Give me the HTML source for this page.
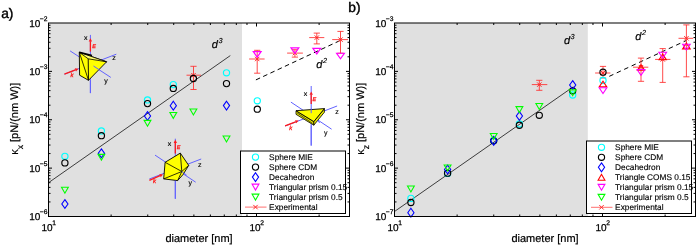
<!DOCTYPE html>
<html><head><meta charset="utf-8"><style>html,body{margin:0;padding:0;background:#fff;overflow:hidden}</style></head>
<body><svg width="697" height="245" viewBox="0 0 697 245" style="display:block;will-change:transform;text-rendering:geometricPrecision"><rect width="697" height="245" fill="#fff"/><rect x="48.5" y="23.0" width="193.5" height="193.5" fill="#e0e0e0"/><rect x="394.5" y="23.0" width="193.29999999999995" height="193.5" fill="#e0e0e0"/><line x1="48.50" y1="182.70" x2="230.30" y2="55.60" stroke="#2a2a2a" stroke-width="0.9" /><line x1="255.9" y1="79.9" x2="340.3" y2="40.45" stroke="#000" stroke-width="1" stroke-dasharray="4.6,3.4"/><circle cx="64.9" cy="156.3" r="3.1" fill="none" stroke="#00ffff" stroke-width="1.15"/><circle cx="64.9" cy="162.9" r="3.1" fill="none" stroke="#000000" stroke-width="1.15"/><polygon points="64.9,199.6 68.0,204.0 64.9,208.4 61.800000000000004,204.0" fill="none" stroke="#0000ff" stroke-width="1.1"/><polygon points="61.50000000000001,187.25 68.30000000000001,187.25 64.9,193.15" fill="none" stroke="#00ff00" stroke-width="1.1" stroke-linejoin="miter"/><circle cx="101.4" cy="130.9" r="3.1" fill="none" stroke="#00ffff" stroke-width="1.15"/><circle cx="101.4" cy="135.7" r="3.1" fill="none" stroke="#000000" stroke-width="1.15"/><polygon points="101.4,148.9 104.5,153.3 101.4,157.70000000000002 98.30000000000001,153.3" fill="none" stroke="#0000ff" stroke-width="1.1"/><polygon points="98.0,154.35000000000002 104.80000000000001,154.35000000000002 101.4,160.25000000000003" fill="none" stroke="#00ff00" stroke-width="1.1" stroke-linejoin="miter"/><circle cx="147.5" cy="99.9" r="3.1" fill="none" stroke="#00ffff" stroke-width="1.15"/><circle cx="147.5" cy="103.6" r="3.1" fill="none" stroke="#000000" stroke-width="1.15"/><polygon points="147.5,111.6 150.6,116.0 147.5,120.4 144.4,116.0" fill="none" stroke="#0000ff" stroke-width="1.1"/><polygon points="144.1,120.35 150.9,120.35 147.5,126.25" fill="none" stroke="#00ff00" stroke-width="1.1" stroke-linejoin="miter"/><circle cx="173.3" cy="84.6" r="3.1" fill="none" stroke="#00ffff" stroke-width="1.15"/><circle cx="173.3" cy="88.4" r="3.1" fill="none" stroke="#000000" stroke-width="1.15"/><polygon points="173.3,101.3 176.4,105.7 173.3,110.10000000000001 170.20000000000002,105.7" fill="none" stroke="#0000ff" stroke-width="1.1"/><polygon points="169.9,112.45 176.70000000000002,112.45 173.3,118.35000000000001" fill="none" stroke="#00ff00" stroke-width="1.1" stroke-linejoin="miter"/><circle cx="226.5" cy="72.8" r="3.1" fill="none" stroke="#00ffff" stroke-width="1.15"/><circle cx="226.5" cy="83.6" r="3.1" fill="none" stroke="#000000" stroke-width="1.15"/><polygon points="226.5,101.19999999999999 229.6,105.6 226.5,110.0 223.4,105.6" fill="none" stroke="#0000ff" stroke-width="1.1"/><polygon points="223.1,136.05 229.9,136.05 226.5,141.95000000000002" fill="none" stroke="#00ff00" stroke-width="1.1" stroke-linejoin="miter"/><line x1="193.50" y1="66.30" x2="193.50" y2="89.50" stroke="#ff2a2a" stroke-width="0.85" /><line x1="190.40" y1="66.30" x2="196.60" y2="66.30" stroke="#ff2a2a" stroke-width="0.85" /><line x1="190.40" y1="89.50" x2="196.60" y2="89.50" stroke="#ff2a2a" stroke-width="0.85" /><line x1="186.50" y1="75.20" x2="201.00" y2="75.20" stroke="#ff2a2a" stroke-width="0.85" /><line x1="191.30" y1="73.00" x2="195.70" y2="77.40" stroke="#ff2a2a" stroke-width="1" /><line x1="191.30" y1="77.40" x2="195.70" y2="73.00" stroke="#ff2a2a" stroke-width="1" /><circle cx="193.4" cy="78.5" r="3.1" fill="none" stroke="#000000" stroke-width="1.15"/><polygon points="190.0,109.05 196.8,109.05 193.4,114.95" fill="none" stroke="#00ff00" stroke-width="1.1" stroke-linejoin="miter"/><circle cx="257.3" cy="100.8" r="3.1" fill="none" stroke="#00ffff" stroke-width="1.15"/><circle cx="257.3" cy="109.2" r="3.1" fill="none" stroke="#000000" stroke-width="1.15"/><line x1="257.20" y1="50.30" x2="257.20" y2="73.20" stroke="#ff2a2a" stroke-width="0.85" /><line x1="254.10" y1="50.30" x2="260.30" y2="50.30" stroke="#ff2a2a" stroke-width="0.85" /><line x1="254.10" y1="73.20" x2="260.30" y2="73.20" stroke="#ff2a2a" stroke-width="0.85" /><line x1="249.10" y1="59.00" x2="264.60" y2="59.00" stroke="#ff2a2a" stroke-width="0.85" /><line x1="255.00" y1="56.80" x2="259.40" y2="61.20" stroke="#ff2a2a" stroke-width="1" /><line x1="255.00" y1="61.20" x2="259.40" y2="56.80" stroke="#ff2a2a" stroke-width="1" /><polygon points="253.29999999999998,51.65 261.09999999999997,51.65 257.2,57.15" fill="none" stroke="#ff00ff" stroke-width="1.2" stroke-linejoin="miter"/><line x1="294.90" y1="49.70" x2="294.90" y2="57.10" stroke="#ff2a2a" stroke-width="0.85" /><line x1="291.80" y1="49.70" x2="298.00" y2="49.70" stroke="#ff2a2a" stroke-width="0.85" /><line x1="291.80" y1="57.10" x2="298.00" y2="57.10" stroke="#ff2a2a" stroke-width="0.85" /><line x1="287.10" y1="53.10" x2="302.90" y2="53.10" stroke="#ff2a2a" stroke-width="0.85" /><line x1="292.70" y1="50.90" x2="297.10" y2="55.30" stroke="#ff2a2a" stroke-width="1" /><line x1="292.70" y1="55.30" x2="297.10" y2="50.90" stroke="#ff2a2a" stroke-width="1" /><polygon points="291.0,47.95 298.79999999999995,47.95 294.9,53.45" fill="none" stroke="#ff00ff" stroke-width="1.2" stroke-linejoin="miter"/><line x1="316.80" y1="33.10" x2="316.80" y2="43.90" stroke="#ff2a2a" stroke-width="0.85" /><line x1="313.70" y1="33.10" x2="319.90" y2="33.10" stroke="#ff2a2a" stroke-width="0.85" /><line x1="313.70" y1="43.90" x2="319.90" y2="43.90" stroke="#ff2a2a" stroke-width="0.85" /><line x1="309.20" y1="37.60" x2="324.30" y2="37.60" stroke="#ff2a2a" stroke-width="0.85" /><line x1="314.60" y1="35.40" x2="319.00" y2="39.80" stroke="#ff2a2a" stroke-width="1" /><line x1="314.60" y1="39.80" x2="319.00" y2="35.40" stroke="#ff2a2a" stroke-width="1" /><polygon points="312.90000000000003,48.45 320.7,48.45 316.8,53.95" fill="none" stroke="#ff00ff" stroke-width="1.2" stroke-linejoin="miter"/><line x1="340.50" y1="31.40" x2="340.50" y2="53.20" stroke="#ff2a2a" stroke-width="0.85" /><line x1="337.40" y1="31.40" x2="343.60" y2="31.40" stroke="#ff2a2a" stroke-width="0.85" /><line x1="337.40" y1="53.20" x2="343.60" y2="53.20" stroke="#ff2a2a" stroke-width="0.85" /><line x1="332.20" y1="39.60" x2="348.00" y2="39.60" stroke="#ff2a2a" stroke-width="0.85" /><line x1="338.30" y1="37.40" x2="342.70" y2="41.80" stroke="#ff2a2a" stroke-width="1" /><line x1="338.30" y1="41.80" x2="342.70" y2="37.40" stroke="#ff2a2a" stroke-width="1" /><polygon points="336.6,53.25 344.4,53.25 340.5,58.75" fill="none" stroke="#ff00ff" stroke-width="1.2" stroke-linejoin="miter"/><line x1="394.50" y1="211.50" x2="573.30" y2="86.80" stroke="#2a2a2a" stroke-width="0.9" /><line x1="609.3" y1="76.32" x2="686.4" y2="40.46" stroke="#000" stroke-width="1" stroke-dasharray="4.5,3.7"/><circle cx="410.9" cy="198.4" r="3.1" fill="none" stroke="#00ffff" stroke-width="1.15"/><circle cx="410.9" cy="202.5" r="3.1" fill="none" stroke="#000000" stroke-width="1.15"/><polygon points="410.9,208.29999999999998 414.0,212.7 410.9,217.1 407.79999999999995,212.7" fill="none" stroke="#0000ff" stroke-width="1.1"/><polygon points="407.5,186.05 414.29999999999995,186.05 410.9,191.95000000000002" fill="none" stroke="#00ff00" stroke-width="1.1" stroke-linejoin="miter"/><circle cx="447.6" cy="173.4" r="3.1" fill="none" stroke="#00ffff" stroke-width="1.15"/><circle cx="447.6" cy="173.2" r="3.1" fill="none" stroke="#000000" stroke-width="1.15"/><polygon points="447.6,165.1 450.70000000000005,169.5 447.6,173.9 444.5,169.5" fill="none" stroke="#0000ff" stroke-width="1.1"/><polygon points="444.20000000000005,165.05 451.0,165.05 447.6,170.95000000000002" fill="none" stroke="#00ff00" stroke-width="1.1" stroke-linejoin="miter"/><circle cx="493.7" cy="140.5" r="3.1" fill="none" stroke="#00ffff" stroke-width="1.15"/><circle cx="493.7" cy="140.8" r="3.1" fill="none" stroke="#000000" stroke-width="1.15"/><polygon points="493.7,136.4 496.8,140.8 493.7,145.20000000000002 490.59999999999997,140.8" fill="none" stroke="#0000ff" stroke-width="1.1"/><polygon points="490.3,133.45000000000002 497.09999999999997,133.45000000000002 493.7,139.35000000000002" fill="none" stroke="#00ff00" stroke-width="1.1" stroke-linejoin="miter"/><circle cx="519.4" cy="124" r="3.1" fill="none" stroke="#00ffff" stroke-width="1.15"/><circle cx="519.4" cy="125.2" r="3.1" fill="none" stroke="#000000" stroke-width="1.15"/><polygon points="519.4,111.6 522.5,116.0 519.4,120.4 516.3,116.0" fill="none" stroke="#0000ff" stroke-width="1.1"/><polygon points="516.0,106.64999999999999 522.8,106.64999999999999 519.4,112.55" fill="none" stroke="#00ff00" stroke-width="1.1" stroke-linejoin="miter"/><circle cx="572.7" cy="95.0" r="3.1" fill="none" stroke="#00ffff" stroke-width="1.15"/><circle cx="572.7" cy="90.8" r="3.1" fill="none" stroke="#000000" stroke-width="1.15"/><polygon points="572.7,80.6 575.8000000000001,85.0 572.7,89.4 569.6,85.0" fill="none" stroke="#0000ff" stroke-width="1.1"/><polygon points="569.3000000000001,89.85 576.1,89.85 572.7,95.75" fill="none" stroke="#00ff00" stroke-width="1.1" stroke-linejoin="miter"/><line x1="539.30" y1="80.30" x2="539.30" y2="90.30" stroke="#ff2a2a" stroke-width="0.85" /><line x1="536.20" y1="80.30" x2="542.40" y2="80.30" stroke="#ff2a2a" stroke-width="0.85" /><line x1="536.20" y1="90.30" x2="542.40" y2="90.30" stroke="#ff2a2a" stroke-width="0.85" /><line x1="531.80" y1="84.60" x2="547.30" y2="84.60" stroke="#ff2a2a" stroke-width="0.85" /><line x1="537.10" y1="82.40" x2="541.50" y2="86.80" stroke="#ff2a2a" stroke-width="1" /><line x1="537.10" y1="86.80" x2="541.50" y2="82.40" stroke="#ff2a2a" stroke-width="1" /><polygon points="535.9,103.55 542.6999999999999,103.55 539.3,109.45" fill="none" stroke="#00ff00" stroke-width="1.1" stroke-linejoin="miter"/><circle cx="539.3" cy="115.3" r="3.1" fill="none" stroke="#000000" stroke-width="1.15"/><line x1="603.00" y1="66.40" x2="603.00" y2="78.00" stroke="#ff2a2a" stroke-width="0.85" /><line x1="599.90" y1="66.40" x2="606.10" y2="66.40" stroke="#ff2a2a" stroke-width="0.85" /><line x1="599.90" y1="78.00" x2="606.10" y2="78.00" stroke="#ff2a2a" stroke-width="0.85" /><line x1="595.10" y1="73.00" x2="610.40" y2="73.00" stroke="#ff2a2a" stroke-width="0.85" /><line x1="600.80" y1="70.80" x2="605.20" y2="75.20" stroke="#ff2a2a" stroke-width="1" /><line x1="600.80" y1="75.20" x2="605.20" y2="70.80" stroke="#ff2a2a" stroke-width="1" /><circle cx="603.0" cy="72.2" r="3.1" fill="none" stroke="#000000" stroke-width="1.15"/><circle cx="603.0" cy="80.4" r="3.1" fill="none" stroke="#00ffff" stroke-width="1.15"/><polygon points="599.3,86.8 606.7,86.8 603.0,81.2" fill="none" stroke="#ff0000" stroke-width="1.1"/><polygon points="599.2,87.69999999999999 606.8,87.69999999999999 603.0,93.49999999999999" fill="none" stroke="#ff00ff" stroke-width="1.1" stroke-linejoin="miter"/><line x1="641.00" y1="58.10" x2="641.00" y2="81.30" stroke="#ff2a2a" stroke-width="0.85" /><line x1="637.90" y1="58.10" x2="644.10" y2="58.10" stroke="#ff2a2a" stroke-width="0.85" /><line x1="637.90" y1="81.30" x2="644.10" y2="81.30" stroke="#ff2a2a" stroke-width="0.85" /><line x1="633.00" y1="67.20" x2="648.30" y2="67.20" stroke="#ff2a2a" stroke-width="0.85" /><line x1="638.80" y1="65.00" x2="643.20" y2="69.40" stroke="#ff2a2a" stroke-width="1" /><line x1="638.80" y1="69.40" x2="643.20" y2="65.00" stroke="#ff2a2a" stroke-width="1" /><polygon points="637.4,70.15 644.6,70.15 641,64.65" fill="none" stroke="#ff0000" stroke-width="1.1"/><polygon points="637.1,69.5 644.9,69.5 641,75.3" fill="none" stroke="#ff00ff" stroke-width="1.1" stroke-linejoin="miter"/><line x1="662.70" y1="48.60" x2="662.70" y2="82.40" stroke="#ff2a2a" stroke-width="0.85" /><line x1="659.60" y1="48.60" x2="665.80" y2="48.60" stroke="#ff2a2a" stroke-width="0.85" /><line x1="659.60" y1="82.40" x2="665.80" y2="82.40" stroke="#ff2a2a" stroke-width="0.85" /><line x1="655.10" y1="59.40" x2="670.40" y2="59.40" stroke="#ff2a2a" stroke-width="0.85" /><line x1="660.50" y1="57.20" x2="664.90" y2="61.60" stroke="#ff2a2a" stroke-width="1" /><line x1="660.50" y1="61.60" x2="664.90" y2="57.20" stroke="#ff2a2a" stroke-width="1" /><polygon points="659.1,59.699999999999996 666.3000000000001,59.699999999999996 662.7,54.099999999999994" fill="none" stroke="#ff0000" stroke-width="1.1"/><polygon points="658.8000000000001,52.2 666.6,52.2 662.7,58.0" fill="none" stroke="#ff00ff" stroke-width="1.1" stroke-linejoin="miter"/><line x1="686.40" y1="24.90" x2="686.40" y2="76.80" stroke="#ff2a2a" stroke-width="0.85" /><line x1="683.30" y1="24.90" x2="689.50" y2="24.90" stroke="#ff2a2a" stroke-width="0.85" /><line x1="683.30" y1="76.80" x2="689.50" y2="76.80" stroke="#ff2a2a" stroke-width="0.85" /><line x1="678.50" y1="38.30" x2="693.20" y2="38.30" stroke="#ff2a2a" stroke-width="0.85" /><line x1="684.20" y1="36.10" x2="688.60" y2="40.50" stroke="#ff2a2a" stroke-width="1" /><line x1="684.20" y1="40.50" x2="688.60" y2="36.10" stroke="#ff2a2a" stroke-width="1" /><polygon points="682.6,48.9 690.1999999999999,48.9 686.4,43.1" fill="none" stroke="#ff0000" stroke-width="1.1"/><polygon points="682.6,44.300000000000004 690.1999999999999,44.300000000000004 686.4,50.1" fill="none" stroke="#ff00ff" stroke-width="1.1" stroke-linejoin="miter"/><line x1="90.40" y1="34.90" x2="90.40" y2="93.10" stroke="#6262ff" stroke-width="1.0"/><line x1="70.10" y1="50.90" x2="110.80" y2="77.40" stroke="#6262ff" stroke-width="1.0"/><line x1="64.40" y1="74.20" x2="116.30" y2="54.20" stroke="#6262ff" stroke-width="1.0"/><polygon points="79.30,52.30 106.60,61.80 88.50,80.30 79.60,75.20" fill="#ffff00" stroke="#000" stroke-width="0.9" stroke-linejoin="round"/><polygon points="79.30,52.30 106.60,61.80 88.20,58.80" fill="#ffff70" stroke="#000" stroke-width="0.8" stroke-linejoin="round"/><line x1="88.20" y1="58.80" x2="88.50" y2="80.30" stroke="#000" stroke-width="0.9"/><line x1="79.30" y1="52.30" x2="88.50" y2="80.30" stroke="#000" stroke-width="0.8"/><line x1="79.30" y1="52.30" x2="92.00" y2="55.60" stroke="#000" stroke-width="1.6"/><line x1="93.50" y1="66.00" x2="99.60" y2="70.00" stroke="#6262ff" stroke-width="1.0"/><line x1="90.40" y1="80.30" x2="90.40" y2="93.10" stroke="#6262ff" stroke-width="1.0"/><line x1="90.40" y1="51.60" x2="90.40" y2="41.40" stroke="#ff1a1a" stroke-width="1.3"/><polygon points="90.40,38.20 92.10,41.40 88.70,41.40" fill="#ff1a1a"/><line x1="64.40" y1="74.20" x2="75.41" y2="69.95" stroke="#ff1a1a" stroke-width="1.3"/><polygon points="78.40,68.80 76.03,71.54 74.80,68.37" fill="#ff1a1a"/><text x="85.70" y="40.00" font-size="7" text-anchor="middle" font-family="Liberation Sans, sans-serif" fill="#000" stroke="#000" stroke-width="0.15">x</text><text x="94.00" y="47.90" font-size="5.5" text-anchor="middle" font-family="Liberation Sans, sans-serif" fill="#ff1a1a" font-style="italic" stroke="#ff1a1a" stroke-width="0.3">E</text><text x="71.90" y="77.20" font-size="6" text-anchor="middle" font-family="Liberation Sans, sans-serif" fill="#ff1a1a" font-style="italic" stroke="#ff1a1a" stroke-width="0.3">k</text><text x="106.00" y="83.00" font-size="7" text-anchor="middle" font-family="Liberation Sans, sans-serif" fill="#000" stroke="#000" stroke-width="0.15">y</text><text x="114.10" y="59.60" font-size="7" text-anchor="middle" font-family="Liberation Sans, sans-serif" fill="#000" stroke="#000" stroke-width="0.15">z</text><line x1="175.30" y1="138.70" x2="175.30" y2="198.80" stroke="#6262ff" stroke-width="1.0"/><line x1="155.00" y1="155.10" x2="195.70" y2="182.20" stroke="#6262ff" stroke-width="1.0"/><line x1="149.30" y1="179.00" x2="201.20" y2="159.00" stroke="#6262ff" stroke-width="1.0"/><polygon points="180.30,153.10 188.70,165.40 183.00,174.60 177.60,180.60 163.70,178.90 165.10,162.30" fill="#ffff00" stroke="#000" stroke-width="0.9" stroke-linejoin="round"/><line x1="181.80" y1="171.50" x2="180.30" y2="153.10" stroke="#000" stroke-width="0.8"/><line x1="181.80" y1="171.50" x2="188.70" y2="165.40" stroke="#000" stroke-width="0.8"/><line x1="181.80" y1="171.50" x2="165.10" y2="162.30" stroke="#000" stroke-width="0.8"/><line x1="181.80" y1="171.50" x2="163.70" y2="178.90" stroke="#000" stroke-width="0.8"/><line x1="181.80" y1="171.50" x2="177.60" y2="180.60" stroke="#000" stroke-width="0.8"/><line x1="181.80" y1="171.50" x2="186.67" y2="175.25" stroke="#6262ff" stroke-width="1.0"/><line x1="175.30" y1="180.60" x2="175.30" y2="198.80" stroke="#6262ff" stroke-width="1.0"/><line x1="175.30" y1="153.40" x2="175.30" y2="143.00" stroke="#ff1a1a" stroke-width="1.3"/><polygon points="175.30,139.80 177.00,143.00 173.60,143.00" fill="#ff1a1a"/><line x1="149.40" y1="180.30" x2="160.06" y2="175.67" stroke="#ff1a1a" stroke-width="1.3"/><polygon points="163.00,174.40 160.74,177.23 159.39,174.11" fill="#ff1a1a"/><text x="169.50" y="146.00" font-size="7" text-anchor="middle" font-family="Liberation Sans, sans-serif" fill="#000" stroke="#000" stroke-width="0.15">x</text><text x="178.60" y="149.30" font-size="5.5" text-anchor="middle" font-family="Liberation Sans, sans-serif" fill="#ff1a1a" font-style="italic" stroke="#ff1a1a" stroke-width="0.3">E</text><text x="154.60" y="183.20" font-size="6" text-anchor="middle" font-family="Liberation Sans, sans-serif" fill="#ff1a1a" font-style="italic" stroke="#ff1a1a" stroke-width="0.3">k</text><text x="190.30" y="184.60" font-size="7" text-anchor="middle" font-family="Liberation Sans, sans-serif" fill="#000" stroke="#000" stroke-width="0.15">y</text><text x="199.80" y="167.00" font-size="7" text-anchor="middle" font-family="Liberation Sans, sans-serif" fill="#000" stroke="#000" stroke-width="0.15">z</text><line x1="311.20" y1="86.00" x2="311.20" y2="145.60" stroke="#6262ff" stroke-width="1.0"/><line x1="290.90" y1="102.10" x2="331.60" y2="129.20" stroke="#6262ff" stroke-width="1.0"/><line x1="285.20" y1="126.00" x2="337.10" y2="106.00" stroke="#6262ff" stroke-width="1.0"/><polygon points="296.00,110.70 313.80,121.60 313.80,125.20 296.00,114.30" fill="#e8e800" stroke="#000" stroke-width="0.8" stroke-linejoin="round"/><polygon points="313.80,121.60 324.40,108.60 324.40,112.20 313.80,125.20" fill="#e8e800" stroke="#000" stroke-width="0.8" stroke-linejoin="round"/><polygon points="296.00,110.70 324.40,108.60 313.80,121.60" fill="#ffff00" stroke="#000" stroke-width="0.9" stroke-linejoin="round"/><line x1="297.00" y1="112.80" x2="312.50" y2="123.40" stroke="#000" stroke-width="0.6"/><line x1="311.20" y1="108.50" x2="311.20" y2="113.20" stroke="#6262ff" stroke-width="1.0"/><line x1="317.50" y1="121.00" x2="319.80" y2="122.60" stroke="#6262ff" stroke-width="1.0"/><line x1="311.20" y1="125.30" x2="311.20" y2="145.60" stroke="#6262ff" stroke-width="1.0"/><line x1="311.20" y1="104.00" x2="311.20" y2="94.70" stroke="#ff1a1a" stroke-width="1.3"/><polygon points="311.20,91.50 312.90,94.70 309.50,94.70" fill="#ff1a1a"/><line x1="285.10" y1="125.90" x2="295.62" y2="121.77" stroke="#ff1a1a" stroke-width="1.3"/><polygon points="298.60,120.60 296.24,123.35 295.00,120.19" fill="#ff1a1a"/><text x="305.50" y="95.60" font-size="7" text-anchor="middle" font-family="Liberation Sans, sans-serif" fill="#000" stroke="#000" stroke-width="0.15">x</text><text x="314.40" y="100.60" font-size="5.5" text-anchor="middle" font-family="Liberation Sans, sans-serif" fill="#ff1a1a" font-style="italic" stroke="#ff1a1a" stroke-width="0.3">E</text><text x="290.70" y="129.60" font-size="6" text-anchor="middle" font-family="Liberation Sans, sans-serif" fill="#ff1a1a" font-style="italic" stroke="#ff1a1a" stroke-width="0.3">k</text><text x="325.80" y="135.00" font-size="7" text-anchor="middle" font-family="Liberation Sans, sans-serif" fill="#000" stroke="#000" stroke-width="0.15">y</text><text x="337.00" y="114.20" font-size="7" text-anchor="middle" font-family="Liberation Sans, sans-serif" fill="#000" stroke="#000" stroke-width="0.15">z</text><line x1="48.50" y1="216.50" x2="48.50" y2="213.00" stroke="#000" stroke-width="1" /><line x1="48.50" y1="23.00" x2="48.50" y2="26.50" stroke="#000" stroke-width="1" /><line x1="111.11" y1="216.50" x2="111.11" y2="214.50" stroke="#000" stroke-width="1" /><line x1="111.11" y1="23.00" x2="111.11" y2="25.00" stroke="#000" stroke-width="1" /><line x1="147.74" y1="216.50" x2="147.74" y2="214.50" stroke="#000" stroke-width="1" /><line x1="147.74" y1="23.00" x2="147.74" y2="25.00" stroke="#000" stroke-width="1" /><line x1="173.73" y1="216.50" x2="173.73" y2="214.50" stroke="#000" stroke-width="1" /><line x1="173.73" y1="23.00" x2="173.73" y2="25.00" stroke="#000" stroke-width="1" /><line x1="193.89" y1="216.50" x2="193.89" y2="214.50" stroke="#000" stroke-width="1" /><line x1="193.89" y1="23.00" x2="193.89" y2="25.00" stroke="#000" stroke-width="1" /><line x1="210.36" y1="216.50" x2="210.36" y2="214.50" stroke="#000" stroke-width="1" /><line x1="210.36" y1="23.00" x2="210.36" y2="25.00" stroke="#000" stroke-width="1" /><line x1="224.28" y1="216.50" x2="224.28" y2="214.50" stroke="#000" stroke-width="1" /><line x1="224.28" y1="23.00" x2="224.28" y2="25.00" stroke="#000" stroke-width="1" /><line x1="236.34" y1="216.50" x2="236.34" y2="214.50" stroke="#000" stroke-width="1" /><line x1="236.34" y1="23.00" x2="236.34" y2="25.00" stroke="#000" stroke-width="1" /><line x1="246.98" y1="216.50" x2="246.98" y2="214.50" stroke="#000" stroke-width="1" /><line x1="246.98" y1="23.00" x2="246.98" y2="25.00" stroke="#000" stroke-width="1" /><line x1="256.50" y1="216.50" x2="256.50" y2="213.00" stroke="#000" stroke-width="1" /><line x1="256.50" y1="23.00" x2="256.50" y2="26.50" stroke="#000" stroke-width="1" /><line x1="319.11" y1="216.50" x2="319.11" y2="214.50" stroke="#000" stroke-width="1" /><line x1="319.11" y1="23.00" x2="319.11" y2="25.00" stroke="#000" stroke-width="1" /><line x1="48.50" y1="216.50" x2="52.00" y2="216.50" stroke="#000" stroke-width="1" /><line x1="349.50" y1="216.50" x2="346.00" y2="216.50" stroke="#000" stroke-width="1" /><line x1="48.50" y1="201.94" x2="50.50" y2="201.94" stroke="#000" stroke-width="1" /><line x1="349.50" y1="201.94" x2="347.50" y2="201.94" stroke="#000" stroke-width="1" /><line x1="48.50" y1="193.42" x2="50.50" y2="193.42" stroke="#000" stroke-width="1" /><line x1="349.50" y1="193.42" x2="347.50" y2="193.42" stroke="#000" stroke-width="1" /><line x1="48.50" y1="187.38" x2="50.50" y2="187.38" stroke="#000" stroke-width="1" /><line x1="349.50" y1="187.38" x2="347.50" y2="187.38" stroke="#000" stroke-width="1" /><line x1="48.50" y1="182.69" x2="50.50" y2="182.69" stroke="#000" stroke-width="1" /><line x1="349.50" y1="182.69" x2="347.50" y2="182.69" stroke="#000" stroke-width="1" /><line x1="48.50" y1="178.86" x2="50.50" y2="178.86" stroke="#000" stroke-width="1" /><line x1="349.50" y1="178.86" x2="347.50" y2="178.86" stroke="#000" stroke-width="1" /><line x1="48.50" y1="175.62" x2="50.50" y2="175.62" stroke="#000" stroke-width="1" /><line x1="349.50" y1="175.62" x2="347.50" y2="175.62" stroke="#000" stroke-width="1" /><line x1="48.50" y1="172.81" x2="50.50" y2="172.81" stroke="#000" stroke-width="1" /><line x1="349.50" y1="172.81" x2="347.50" y2="172.81" stroke="#000" stroke-width="1" /><line x1="48.50" y1="170.34" x2="50.50" y2="170.34" stroke="#000" stroke-width="1" /><line x1="349.50" y1="170.34" x2="347.50" y2="170.34" stroke="#000" stroke-width="1" /><line x1="48.50" y1="168.12" x2="52.00" y2="168.12" stroke="#000" stroke-width="1" /><line x1="349.50" y1="168.12" x2="346.00" y2="168.12" stroke="#000" stroke-width="1" /><line x1="48.50" y1="153.56" x2="50.50" y2="153.56" stroke="#000" stroke-width="1" /><line x1="349.50" y1="153.56" x2="347.50" y2="153.56" stroke="#000" stroke-width="1" /><line x1="48.50" y1="145.04" x2="50.50" y2="145.04" stroke="#000" stroke-width="1" /><line x1="349.50" y1="145.04" x2="347.50" y2="145.04" stroke="#000" stroke-width="1" /><line x1="48.50" y1="139.00" x2="50.50" y2="139.00" stroke="#000" stroke-width="1" /><line x1="349.50" y1="139.00" x2="347.50" y2="139.00" stroke="#000" stroke-width="1" /><line x1="48.50" y1="134.31" x2="50.50" y2="134.31" stroke="#000" stroke-width="1" /><line x1="349.50" y1="134.31" x2="347.50" y2="134.31" stroke="#000" stroke-width="1" /><line x1="48.50" y1="130.48" x2="50.50" y2="130.48" stroke="#000" stroke-width="1" /><line x1="349.50" y1="130.48" x2="347.50" y2="130.48" stroke="#000" stroke-width="1" /><line x1="48.50" y1="127.24" x2="50.50" y2="127.24" stroke="#000" stroke-width="1" /><line x1="349.50" y1="127.24" x2="347.50" y2="127.24" stroke="#000" stroke-width="1" /><line x1="48.50" y1="124.44" x2="50.50" y2="124.44" stroke="#000" stroke-width="1" /><line x1="349.50" y1="124.44" x2="347.50" y2="124.44" stroke="#000" stroke-width="1" /><line x1="48.50" y1="121.96" x2="50.50" y2="121.96" stroke="#000" stroke-width="1" /><line x1="349.50" y1="121.96" x2="347.50" y2="121.96" stroke="#000" stroke-width="1" /><line x1="48.50" y1="119.75" x2="52.00" y2="119.75" stroke="#000" stroke-width="1" /><line x1="349.50" y1="119.75" x2="346.00" y2="119.75" stroke="#000" stroke-width="1" /><line x1="48.50" y1="105.19" x2="50.50" y2="105.19" stroke="#000" stroke-width="1" /><line x1="349.50" y1="105.19" x2="347.50" y2="105.19" stroke="#000" stroke-width="1" /><line x1="48.50" y1="96.67" x2="50.50" y2="96.67" stroke="#000" stroke-width="1" /><line x1="349.50" y1="96.67" x2="347.50" y2="96.67" stroke="#000" stroke-width="1" /><line x1="48.50" y1="90.63" x2="50.50" y2="90.63" stroke="#000" stroke-width="1" /><line x1="349.50" y1="90.63" x2="347.50" y2="90.63" stroke="#000" stroke-width="1" /><line x1="48.50" y1="85.94" x2="50.50" y2="85.94" stroke="#000" stroke-width="1" /><line x1="349.50" y1="85.94" x2="347.50" y2="85.94" stroke="#000" stroke-width="1" /><line x1="48.50" y1="82.11" x2="50.50" y2="82.11" stroke="#000" stroke-width="1" /><line x1="349.50" y1="82.11" x2="347.50" y2="82.11" stroke="#000" stroke-width="1" /><line x1="48.50" y1="78.87" x2="50.50" y2="78.87" stroke="#000" stroke-width="1" /><line x1="349.50" y1="78.87" x2="347.50" y2="78.87" stroke="#000" stroke-width="1" /><line x1="48.50" y1="76.06" x2="50.50" y2="76.06" stroke="#000" stroke-width="1" /><line x1="349.50" y1="76.06" x2="347.50" y2="76.06" stroke="#000" stroke-width="1" /><line x1="48.50" y1="73.59" x2="50.50" y2="73.59" stroke="#000" stroke-width="1" /><line x1="349.50" y1="73.59" x2="347.50" y2="73.59" stroke="#000" stroke-width="1" /><line x1="48.50" y1="71.38" x2="52.00" y2="71.38" stroke="#000" stroke-width="1" /><line x1="349.50" y1="71.38" x2="346.00" y2="71.38" stroke="#000" stroke-width="1" /><line x1="48.50" y1="56.81" x2="50.50" y2="56.81" stroke="#000" stroke-width="1" /><line x1="349.50" y1="56.81" x2="347.50" y2="56.81" stroke="#000" stroke-width="1" /><line x1="48.50" y1="48.29" x2="50.50" y2="48.29" stroke="#000" stroke-width="1" /><line x1="349.50" y1="48.29" x2="347.50" y2="48.29" stroke="#000" stroke-width="1" /><line x1="48.50" y1="42.25" x2="50.50" y2="42.25" stroke="#000" stroke-width="1" /><line x1="349.50" y1="42.25" x2="347.50" y2="42.25" stroke="#000" stroke-width="1" /><line x1="48.50" y1="37.56" x2="50.50" y2="37.56" stroke="#000" stroke-width="1" /><line x1="349.50" y1="37.56" x2="347.50" y2="37.56" stroke="#000" stroke-width="1" /><line x1="48.50" y1="33.73" x2="50.50" y2="33.73" stroke="#000" stroke-width="1" /><line x1="349.50" y1="33.73" x2="347.50" y2="33.73" stroke="#000" stroke-width="1" /><line x1="48.50" y1="30.49" x2="50.50" y2="30.49" stroke="#000" stroke-width="1" /><line x1="349.50" y1="30.49" x2="347.50" y2="30.49" stroke="#000" stroke-width="1" /><line x1="48.50" y1="27.69" x2="50.50" y2="27.69" stroke="#000" stroke-width="1" /><line x1="349.50" y1="27.69" x2="347.50" y2="27.69" stroke="#000" stroke-width="1" /><line x1="48.50" y1="25.21" x2="50.50" y2="25.21" stroke="#000" stroke-width="1" /><line x1="349.50" y1="25.21" x2="347.50" y2="25.21" stroke="#000" stroke-width="1" /><rect x="48.5" y="23.0" width="301.0" height="193.5" fill="none" stroke="#000" stroke-width="1"/><line x1="394.50" y1="216.50" x2="394.50" y2="213.00" stroke="#000" stroke-width="1" /><line x1="394.50" y1="23.00" x2="394.50" y2="26.50" stroke="#000" stroke-width="1" /><line x1="457.11" y1="216.50" x2="457.11" y2="214.50" stroke="#000" stroke-width="1" /><line x1="457.11" y1="23.00" x2="457.11" y2="25.00" stroke="#000" stroke-width="1" /><line x1="493.74" y1="216.50" x2="493.74" y2="214.50" stroke="#000" stroke-width="1" /><line x1="493.74" y1="23.00" x2="493.74" y2="25.00" stroke="#000" stroke-width="1" /><line x1="519.73" y1="216.50" x2="519.73" y2="214.50" stroke="#000" stroke-width="1" /><line x1="519.73" y1="23.00" x2="519.73" y2="25.00" stroke="#000" stroke-width="1" /><line x1="539.89" y1="216.50" x2="539.89" y2="214.50" stroke="#000" stroke-width="1" /><line x1="539.89" y1="23.00" x2="539.89" y2="25.00" stroke="#000" stroke-width="1" /><line x1="556.36" y1="216.50" x2="556.36" y2="214.50" stroke="#000" stroke-width="1" /><line x1="556.36" y1="23.00" x2="556.36" y2="25.00" stroke="#000" stroke-width="1" /><line x1="570.28" y1="216.50" x2="570.28" y2="214.50" stroke="#000" stroke-width="1" /><line x1="570.28" y1="23.00" x2="570.28" y2="25.00" stroke="#000" stroke-width="1" /><line x1="582.34" y1="216.50" x2="582.34" y2="214.50" stroke="#000" stroke-width="1" /><line x1="582.34" y1="23.00" x2="582.34" y2="25.00" stroke="#000" stroke-width="1" /><line x1="592.98" y1="216.50" x2="592.98" y2="214.50" stroke="#000" stroke-width="1" /><line x1="592.98" y1="23.00" x2="592.98" y2="25.00" stroke="#000" stroke-width="1" /><line x1="602.50" y1="216.50" x2="602.50" y2="213.00" stroke="#000" stroke-width="1" /><line x1="602.50" y1="23.00" x2="602.50" y2="26.50" stroke="#000" stroke-width="1" /><line x1="665.11" y1="216.50" x2="665.11" y2="214.50" stroke="#000" stroke-width="1" /><line x1="665.11" y1="23.00" x2="665.11" y2="25.00" stroke="#000" stroke-width="1" /><line x1="394.50" y1="216.50" x2="398.00" y2="216.50" stroke="#000" stroke-width="1" /><line x1="695.50" y1="216.50" x2="692.00" y2="216.50" stroke="#000" stroke-width="1" /><line x1="394.50" y1="201.94" x2="396.50" y2="201.94" stroke="#000" stroke-width="1" /><line x1="695.50" y1="201.94" x2="693.50" y2="201.94" stroke="#000" stroke-width="1" /><line x1="394.50" y1="193.42" x2="396.50" y2="193.42" stroke="#000" stroke-width="1" /><line x1="695.50" y1="193.42" x2="693.50" y2="193.42" stroke="#000" stroke-width="1" /><line x1="394.50" y1="187.38" x2="396.50" y2="187.38" stroke="#000" stroke-width="1" /><line x1="695.50" y1="187.38" x2="693.50" y2="187.38" stroke="#000" stroke-width="1" /><line x1="394.50" y1="182.69" x2="396.50" y2="182.69" stroke="#000" stroke-width="1" /><line x1="695.50" y1="182.69" x2="693.50" y2="182.69" stroke="#000" stroke-width="1" /><line x1="394.50" y1="178.86" x2="396.50" y2="178.86" stroke="#000" stroke-width="1" /><line x1="695.50" y1="178.86" x2="693.50" y2="178.86" stroke="#000" stroke-width="1" /><line x1="394.50" y1="175.62" x2="396.50" y2="175.62" stroke="#000" stroke-width="1" /><line x1="695.50" y1="175.62" x2="693.50" y2="175.62" stroke="#000" stroke-width="1" /><line x1="394.50" y1="172.81" x2="396.50" y2="172.81" stroke="#000" stroke-width="1" /><line x1="695.50" y1="172.81" x2="693.50" y2="172.81" stroke="#000" stroke-width="1" /><line x1="394.50" y1="170.34" x2="396.50" y2="170.34" stroke="#000" stroke-width="1" /><line x1="695.50" y1="170.34" x2="693.50" y2="170.34" stroke="#000" stroke-width="1" /><line x1="394.50" y1="168.12" x2="398.00" y2="168.12" stroke="#000" stroke-width="1" /><line x1="695.50" y1="168.12" x2="692.00" y2="168.12" stroke="#000" stroke-width="1" /><line x1="394.50" y1="153.56" x2="396.50" y2="153.56" stroke="#000" stroke-width="1" /><line x1="695.50" y1="153.56" x2="693.50" y2="153.56" stroke="#000" stroke-width="1" /><line x1="394.50" y1="145.04" x2="396.50" y2="145.04" stroke="#000" stroke-width="1" /><line x1="695.50" y1="145.04" x2="693.50" y2="145.04" stroke="#000" stroke-width="1" /><line x1="394.50" y1="139.00" x2="396.50" y2="139.00" stroke="#000" stroke-width="1" /><line x1="695.50" y1="139.00" x2="693.50" y2="139.00" stroke="#000" stroke-width="1" /><line x1="394.50" y1="134.31" x2="396.50" y2="134.31" stroke="#000" stroke-width="1" /><line x1="695.50" y1="134.31" x2="693.50" y2="134.31" stroke="#000" stroke-width="1" /><line x1="394.50" y1="130.48" x2="396.50" y2="130.48" stroke="#000" stroke-width="1" /><line x1="695.50" y1="130.48" x2="693.50" y2="130.48" stroke="#000" stroke-width="1" /><line x1="394.50" y1="127.24" x2="396.50" y2="127.24" stroke="#000" stroke-width="1" /><line x1="695.50" y1="127.24" x2="693.50" y2="127.24" stroke="#000" stroke-width="1" /><line x1="394.50" y1="124.44" x2="396.50" y2="124.44" stroke="#000" stroke-width="1" /><line x1="695.50" y1="124.44" x2="693.50" y2="124.44" stroke="#000" stroke-width="1" /><line x1="394.50" y1="121.96" x2="396.50" y2="121.96" stroke="#000" stroke-width="1" /><line x1="695.50" y1="121.96" x2="693.50" y2="121.96" stroke="#000" stroke-width="1" /><line x1="394.50" y1="119.75" x2="398.00" y2="119.75" stroke="#000" stroke-width="1" /><line x1="695.50" y1="119.75" x2="692.00" y2="119.75" stroke="#000" stroke-width="1" /><line x1="394.50" y1="105.19" x2="396.50" y2="105.19" stroke="#000" stroke-width="1" /><line x1="695.50" y1="105.19" x2="693.50" y2="105.19" stroke="#000" stroke-width="1" /><line x1="394.50" y1="96.67" x2="396.50" y2="96.67" stroke="#000" stroke-width="1" /><line x1="695.50" y1="96.67" x2="693.50" y2="96.67" stroke="#000" stroke-width="1" /><line x1="394.50" y1="90.63" x2="396.50" y2="90.63" stroke="#000" stroke-width="1" /><line x1="695.50" y1="90.63" x2="693.50" y2="90.63" stroke="#000" stroke-width="1" /><line x1="394.50" y1="85.94" x2="396.50" y2="85.94" stroke="#000" stroke-width="1" /><line x1="695.50" y1="85.94" x2="693.50" y2="85.94" stroke="#000" stroke-width="1" /><line x1="394.50" y1="82.11" x2="396.50" y2="82.11" stroke="#000" stroke-width="1" /><line x1="695.50" y1="82.11" x2="693.50" y2="82.11" stroke="#000" stroke-width="1" /><line x1="394.50" y1="78.87" x2="396.50" y2="78.87" stroke="#000" stroke-width="1" /><line x1="695.50" y1="78.87" x2="693.50" y2="78.87" stroke="#000" stroke-width="1" /><line x1="394.50" y1="76.06" x2="396.50" y2="76.06" stroke="#000" stroke-width="1" /><line x1="695.50" y1="76.06" x2="693.50" y2="76.06" stroke="#000" stroke-width="1" /><line x1="394.50" y1="73.59" x2="396.50" y2="73.59" stroke="#000" stroke-width="1" /><line x1="695.50" y1="73.59" x2="693.50" y2="73.59" stroke="#000" stroke-width="1" /><line x1="394.50" y1="71.38" x2="398.00" y2="71.38" stroke="#000" stroke-width="1" /><line x1="695.50" y1="71.38" x2="692.00" y2="71.38" stroke="#000" stroke-width="1" /><line x1="394.50" y1="56.81" x2="396.50" y2="56.81" stroke="#000" stroke-width="1" /><line x1="695.50" y1="56.81" x2="693.50" y2="56.81" stroke="#000" stroke-width="1" /><line x1="394.50" y1="48.29" x2="396.50" y2="48.29" stroke="#000" stroke-width="1" /><line x1="695.50" y1="48.29" x2="693.50" y2="48.29" stroke="#000" stroke-width="1" /><line x1="394.50" y1="42.25" x2="396.50" y2="42.25" stroke="#000" stroke-width="1" /><line x1="695.50" y1="42.25" x2="693.50" y2="42.25" stroke="#000" stroke-width="1" /><line x1="394.50" y1="37.56" x2="396.50" y2="37.56" stroke="#000" stroke-width="1" /><line x1="695.50" y1="37.56" x2="693.50" y2="37.56" stroke="#000" stroke-width="1" /><line x1="394.50" y1="33.73" x2="396.50" y2="33.73" stroke="#000" stroke-width="1" /><line x1="695.50" y1="33.73" x2="693.50" y2="33.73" stroke="#000" stroke-width="1" /><line x1="394.50" y1="30.49" x2="396.50" y2="30.49" stroke="#000" stroke-width="1" /><line x1="695.50" y1="30.49" x2="693.50" y2="30.49" stroke="#000" stroke-width="1" /><line x1="394.50" y1="27.69" x2="396.50" y2="27.69" stroke="#000" stroke-width="1" /><line x1="695.50" y1="27.69" x2="693.50" y2="27.69" stroke="#000" stroke-width="1" /><line x1="394.50" y1="25.21" x2="396.50" y2="25.21" stroke="#000" stroke-width="1" /><line x1="695.50" y1="25.21" x2="693.50" y2="25.21" stroke="#000" stroke-width="1" /><rect x="394.5" y="23.0" width="301.0" height="193.5" fill="none" stroke="#000" stroke-width="1"/><text x="40.35" y="26.70" font-size="10" text-anchor="end" stroke="#000" stroke-width="0.25" font-family="Liberation Sans, sans-serif" fill="#000">10</text><text x="39.80" y="20.70" font-size="6.7" stroke="#000" stroke-width="0.25" font-family="Liberation Sans, sans-serif" fill="#000">−2</text><text x="40.35" y="75.08" font-size="10" text-anchor="end" stroke="#000" stroke-width="0.25" font-family="Liberation Sans, sans-serif" fill="#000">10</text><text x="39.80" y="69.08" font-size="6.7" stroke="#000" stroke-width="0.25" font-family="Liberation Sans, sans-serif" fill="#000">−3</text><text x="40.35" y="123.45" font-size="10" text-anchor="end" stroke="#000" stroke-width="0.25" font-family="Liberation Sans, sans-serif" fill="#000">10</text><text x="39.80" y="117.45" font-size="6.7" stroke="#000" stroke-width="0.25" font-family="Liberation Sans, sans-serif" fill="#000">−4</text><text x="40.35" y="171.82" font-size="10" text-anchor="end" stroke="#000" stroke-width="0.25" font-family="Liberation Sans, sans-serif" fill="#000">10</text><text x="39.80" y="165.82" font-size="6.7" stroke="#000" stroke-width="0.25" font-family="Liberation Sans, sans-serif" fill="#000">−5</text><text x="40.35" y="220.20" font-size="10" text-anchor="end" stroke="#000" stroke-width="0.25" font-family="Liberation Sans, sans-serif" fill="#000">10</text><text x="39.80" y="214.20" font-size="6.7" stroke="#000" stroke-width="0.25" font-family="Liberation Sans, sans-serif" fill="#000">−6</text><text x="52.50" y="230.50" font-size="10" text-anchor="end" stroke="#000" stroke-width="0.25" font-family="Liberation Sans, sans-serif" fill="#000">10</text><text x="52.30" y="224.60" font-size="6.7" stroke="#000" stroke-width="0.25" font-family="Liberation Sans, sans-serif" fill="#000">1</text><text x="260.50" y="230.50" font-size="10" text-anchor="end" stroke="#000" stroke-width="0.25" font-family="Liberation Sans, sans-serif" fill="#000">10</text><text x="260.30" y="224.60" font-size="6.7" stroke="#000" stroke-width="0.25" font-family="Liberation Sans, sans-serif" fill="#000">2</text><text x="386.35" y="26.70" font-size="10" text-anchor="end" stroke="#000" stroke-width="0.25" font-family="Liberation Sans, sans-serif" fill="#000">10</text><text x="385.80" y="20.70" font-size="6.7" stroke="#000" stroke-width="0.25" font-family="Liberation Sans, sans-serif" fill="#000">−3</text><text x="386.35" y="75.08" font-size="10" text-anchor="end" stroke="#000" stroke-width="0.25" font-family="Liberation Sans, sans-serif" fill="#000">10</text><text x="385.80" y="69.08" font-size="6.7" stroke="#000" stroke-width="0.25" font-family="Liberation Sans, sans-serif" fill="#000">−4</text><text x="386.35" y="123.45" font-size="10" text-anchor="end" stroke="#000" stroke-width="0.25" font-family="Liberation Sans, sans-serif" fill="#000">10</text><text x="385.80" y="117.45" font-size="6.7" stroke="#000" stroke-width="0.25" font-family="Liberation Sans, sans-serif" fill="#000">−5</text><text x="386.35" y="171.82" font-size="10" text-anchor="end" stroke="#000" stroke-width="0.25" font-family="Liberation Sans, sans-serif" fill="#000">10</text><text x="385.80" y="165.82" font-size="6.7" stroke="#000" stroke-width="0.25" font-family="Liberation Sans, sans-serif" fill="#000">−6</text><text x="386.35" y="220.20" font-size="10" text-anchor="end" stroke="#000" stroke-width="0.25" font-family="Liberation Sans, sans-serif" fill="#000">10</text><text x="385.80" y="214.20" font-size="6.7" stroke="#000" stroke-width="0.25" font-family="Liberation Sans, sans-serif" fill="#000">−7</text><text x="398.50" y="230.50" font-size="10" text-anchor="end" stroke="#000" stroke-width="0.25" font-family="Liberation Sans, sans-serif" fill="#000">10</text><text x="398.30" y="224.60" font-size="6.7" stroke="#000" stroke-width="0.25" font-family="Liberation Sans, sans-serif" fill="#000">1</text><text x="606.50" y="230.50" font-size="10" text-anchor="end" stroke="#000" stroke-width="0.25" font-family="Liberation Sans, sans-serif" fill="#000">10</text><text x="606.30" y="224.60" font-size="6.7" stroke="#000" stroke-width="0.25" font-family="Liberation Sans, sans-serif" fill="#000">2</text><text x="1.2" y="18.3" font-size="13.8" stroke="#000" stroke-width="0.4" font-family="Liberation Sans, sans-serif">a)</text><text x="348.3" y="12.2" font-size="13.8" stroke="#000" stroke-width="0.4" font-family="Liberation Sans, sans-serif">b)</text><text x="199" y="242" font-size="11" text-anchor="middle" stroke="#000" stroke-width="0.2" font-family="Liberation Sans, sans-serif">diameter [nm]</text><text x="545" y="242" font-size="11" text-anchor="middle" stroke="#000" stroke-width="0.2" font-family="Liberation Sans, sans-serif">diameter [nm]</text><g transform="translate(18.4,118.8) rotate(-90)"><text x="0" y="0" font-size="11" text-anchor="middle" stroke="#000" stroke-width="0.2" font-family="Liberation Sans, sans-serif">κ<tspan font-size="8.6" dy="4.9">x</tspan><tspan dy="-4.9"> [pN/(nm W)]</tspan></text></g><g transform="translate(364.1,118.8) rotate(-90)"><text x="0" y="0" font-size="11" text-anchor="middle" stroke="#000" stroke-width="0.2" font-family="Liberation Sans, sans-serif">κ<tspan font-size="8.6" dy="4.9">z</tspan><tspan dy="-4.9"> [pN/(nm W)]</tspan></text></g><text x="211.8" y="47.699999999999996" font-size="11" font-style="italic" stroke="#000" stroke-width="0.18" font-family="Liberation Sans, sans-serif">d<tspan font-size="7.3" dx="0.5" dy="-5.2" stroke-width="0.15">3</tspan></text><text x="316.3" y="68.30000000000001" font-size="11" font-style="italic" stroke="#000" stroke-width="0.18" font-family="Liberation Sans, sans-serif">d<tspan font-size="7.3" dx="0.5" dy="-5.2" stroke-width="0.15">2</tspan></text><text x="563.9" y="44.3" font-size="11" font-style="italic" stroke="#000" stroke-width="0.18" font-family="Liberation Sans, sans-serif">d<tspan font-size="7.3" dx="0.5" dy="-5.2" stroke-width="0.15">3</tspan></text><text x="635.3" y="40.199999999999996" font-size="11" font-style="italic" stroke="#000" stroke-width="0.18" font-family="Liberation Sans, sans-serif">d<tspan font-size="7.3" dx="0.5" dy="-5.2" stroke-width="0.15">2</tspan></text><rect x="240.5" y="151.0" width="105.0" height="62.5" fill="#fff" stroke="#000" stroke-width="1"/><circle cx="255.5" cy="157.1" r="3.1" fill="none" stroke="#00ffff" stroke-width="1.15"/><text x="269.1" y="160.0" font-size="8.3" stroke="#000" stroke-width="0.14" font-family="Liberation Sans, sans-serif">Sphere MIE</text><circle cx="255.5" cy="167.1" r="3.1" fill="none" stroke="#000000" stroke-width="1.15"/><text x="269.1" y="170.0" font-size="8.3" stroke="#000" stroke-width="0.14" font-family="Liberation Sans, sans-serif">Sphere CDM</text><polygon points="255.5,172.7 258.6,177.1 255.5,181.5 252.4,177.1" fill="none" stroke="#0000ff" stroke-width="1.1"/><text x="269.1" y="180.0" font-size="8.3" stroke="#000" stroke-width="0.14" font-family="Liberation Sans, sans-serif">Decahedron</text><polygon points="252.1,184.15 258.9,184.15 255.5,190.05" fill="none" stroke="#ff00ff" stroke-width="1.1" stroke-linejoin="miter"/><text x="269.1" y="190.0" font-size="8.3" stroke="#000" stroke-width="0.14" font-family="Liberation Sans, sans-serif">Triangular prism 0.15</text><polygon points="252.1,194.15 258.9,194.15 255.5,200.05" fill="none" stroke="#00ff00" stroke-width="1.1" stroke-linejoin="miter"/><text x="269.1" y="200.0" font-size="8.3" stroke="#000" stroke-width="0.14" font-family="Liberation Sans, sans-serif">Triangular prism 0.5</text><line x1="245.00" y1="207.10" x2="266.50" y2="207.10" stroke="#ff7070" stroke-width="1" /><line x1="253.30" y1="204.90" x2="257.70" y2="209.30" stroke="#ff2a2a" stroke-width="1" /><line x1="253.30" y1="209.30" x2="257.70" y2="204.90" stroke="#ff2a2a" stroke-width="1" /><text x="269.1" y="210.0" font-size="8.3" stroke="#000" stroke-width="0.14" font-family="Liberation Sans, sans-serif">Experimental</text><rect x="586.5" y="141.0" width="105.0" height="72.5" fill="#fff" stroke="#000" stroke-width="1"/><circle cx="601.5" cy="147.3" r="3.1" fill="none" stroke="#00ffff" stroke-width="1.15"/><text x="615.1" y="150.2" font-size="8.3" stroke="#000" stroke-width="0.14" font-family="Liberation Sans, sans-serif">Sphere MIE</text><circle cx="601.5" cy="157.3" r="3.1" fill="none" stroke="#000000" stroke-width="1.15"/><text x="615.1" y="160.2" font-size="8.3" stroke="#000" stroke-width="0.14" font-family="Liberation Sans, sans-serif">Sphere CDM</text><polygon points="601.5,162.9 604.6,167.3 601.5,171.70000000000002 598.4,167.3" fill="none" stroke="#0000ff" stroke-width="1.1"/><text x="615.1" y="170.2" font-size="8.3" stroke="#000" stroke-width="0.14" font-family="Liberation Sans, sans-serif">Decahedron</text><polygon points="598.1,180.25 604.9,180.25 601.5,174.35" fill="none" stroke="#ff0000" stroke-width="1.1"/><text x="615.1" y="180.2" font-size="8.3" stroke="#000" stroke-width="0.14" font-family="Liberation Sans, sans-serif">Triangle COMS 0.15</text><polygon points="598.1,184.35000000000002 604.9,184.35000000000002 601.5,190.25000000000003" fill="none" stroke="#ff00ff" stroke-width="1.1" stroke-linejoin="miter"/><text x="615.1" y="190.2" font-size="8.3" stroke="#000" stroke-width="0.14" font-family="Liberation Sans, sans-serif">Triangular prism 0.15</text><polygon points="598.1,194.35000000000002 604.9,194.35000000000002 601.5,200.25000000000003" fill="none" stroke="#00ff00" stroke-width="1.1" stroke-linejoin="miter"/><text x="615.1" y="200.2" font-size="8.3" stroke="#000" stroke-width="0.14" font-family="Liberation Sans, sans-serif">Triangular prism 0.5</text><line x1="591.00" y1="207.30" x2="612.50" y2="207.30" stroke="#ff7070" stroke-width="1" /><line x1="599.30" y1="205.10" x2="603.70" y2="209.50" stroke="#ff2a2a" stroke-width="1" /><line x1="599.30" y1="209.50" x2="603.70" y2="205.10" stroke="#ff2a2a" stroke-width="1" /><text x="615.1" y="210.2" font-size="8.3" stroke="#000" stroke-width="0.14" font-family="Liberation Sans, sans-serif">Experimental</text></svg></body></html>
